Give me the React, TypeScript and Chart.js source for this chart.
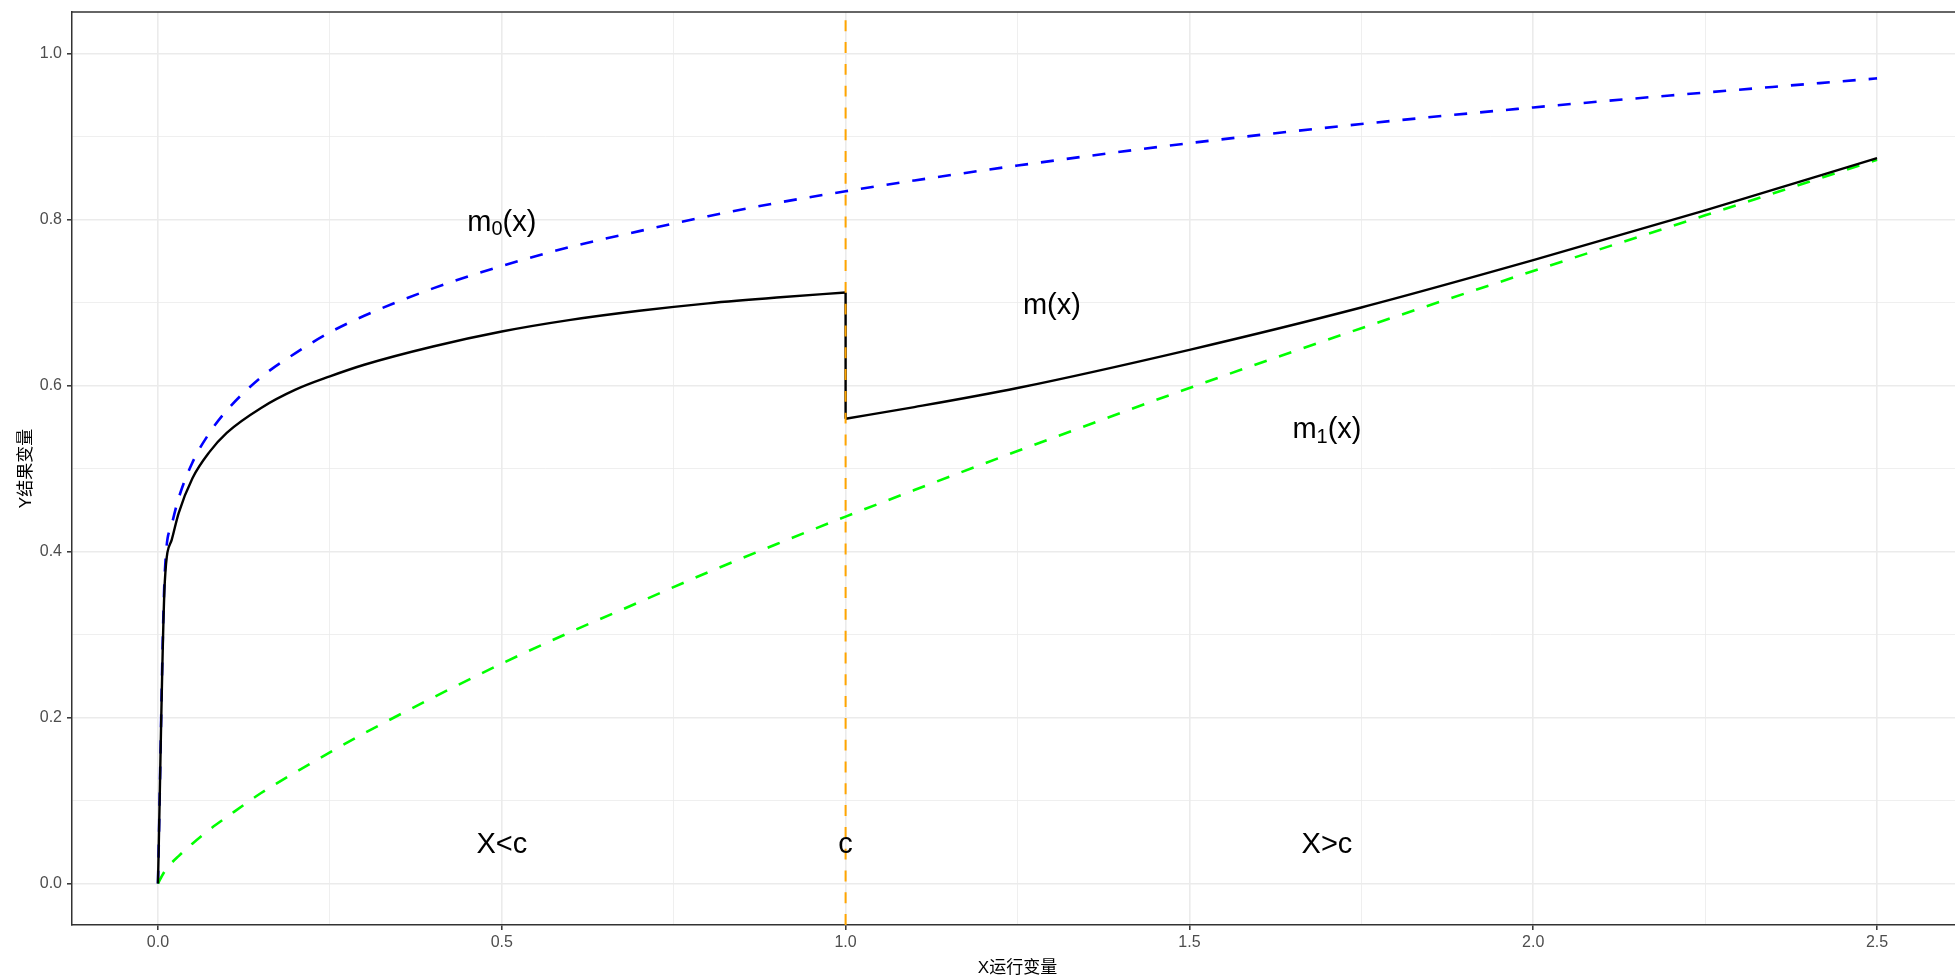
import React, { useEffect, useRef } from 'react';
import { Chart, registerables } from 'chart.js';

Chart.register(...registerables);

// ---- data ----
const X_ALL = [0, 0.01, 0.02, 0.03, 0.05, 0.075, 0.1, 0.15, 0.2, 0.25, 0.3, 0.4, 0.5, 0.6, 0.7, 0.8, 0.9, 1.0, 1.1, 1.25, 1.5, 1.75, 2.0, 2.25, 2.5];
const M0 = [0, 0.375, 0.432, 0.464, 0.507, 0.543, 0.57, 0.61, 0.639, 0.664, 0.684, 0.717, 0.744, 0.767, 0.786, 0.804, 0.82, 0.834, 0.847, 0.865, 0.892, 0.915, 0.935, 0.953, 0.97];
const M1 = [0, 0.015, 0.025, 0.033, 0.048, 0.065, 0.08, 0.109, 0.134, 0.158, 0.181, 0.224, 0.265, 0.303, 0.339, 0.375, 0.409, 0.442, 0.474, 0.521, 0.597, 0.669, 0.738, 0.805, 0.872];

const X_LEFT = [0, 0.01, 0.02, 0.03, 0.05, 0.075, 0.1, 0.15, 0.2, 0.25, 0.3, 0.4, 0.5, 0.6, 0.7, 0.8, 0.9, 1.0];
const M_LEFT = [0, 0.364, 0.414, 0.446, 0.488, 0.52, 0.543, 0.573, 0.595, 0.611, 0.625, 0.647, 0.665, 0.679, 0.69, 0.699, 0.706, 0.712];
const X_RIGHT = [1.0, 1.1, 1.25, 1.5, 1.75, 2.0, 2.25, 2.5];
const M_RIGHT = [0.56, 0.574, 0.597, 0.643, 0.694, 0.751, 0.811, 0.874];

const CUTOFF = 1;

const X_TICKS = [0, 0.25, 0.5, 0.75, 1.0, 1.25, 1.5, 1.75, 2.0, 2.25, 2.5];
const Y_TICKS = [0, 0.1, 0.2, 0.3, 0.4, 0.5, 0.6, 0.7, 0.8, 0.9, 1.0];
const X_RANGE = [-0.125, 2.625];
const Y_RANGE = [-0.05, 1.05];

const LABELS = ['m_0(x)', 'm(x)', 'm_1(x)', 'X<c', 'c', 'X>c'];
const LABEL_X = [0.5, 1.3, 1.7, 0.5, 1.0, 1.7];
const LABEL_Y = [0.8, 0.7, 0.55, 0.05, 0.05, 0.05];

const X_TITLE = 'X运行变量';
const Y_TITLE = 'Y结果变量';

const FAMILY = "'Liberation Sans', Arial, 'Noto Sans CJK SC', sans-serif";

const isMajor = (v: number, step: number) => Math.abs(v / step - Math.round(v / step)) < 1e-6;
const pts = (xs: number[], ys: number[]) => xs.map((x, i) => ({ x, y: ys[i] }));

const overlay = {
  id: 'overlay',
  afterDatasetsDraw(chart: any) {
    const { ctx, chartArea, scales } = chart;
    const xs = scales.x;
    const ys = scales.y;
    // cutoff line
    ctx.save();
    ctx.beginPath();
    ctx.rect(chartArea.left, chartArea.top, chartArea.right - chartArea.left, chartArea.bottom - chartArea.top);
    ctx.clip();
    const px = xs.getPixelForValue(CUTOFF);
    ctx.strokeStyle = '#FFA500';
    ctx.lineWidth = 2;
    ctx.setLineDash([10.9, 10.9]);
    ctx.beginPath();
    ctx.moveTo(px, chartArea.bottom);
    ctx.lineTo(px, chartArea.top);
    ctx.stroke();
    ctx.restore();

    // text labels
    ctx.save();
    ctx.fillStyle = '#000000';
    ctx.textBaseline = 'middle';
    ctx.textAlign = 'left';
    const mainFont = `29px ${FAMILY}`;
    const subFont = `20px ${FAMILY}`;
    LABELS.forEach((lab, i) => {
      const parts: { t: string; sub: boolean }[] = [];
      const m = lab.match(/^([^_]*)_(\d)(.*)$/);
      if (m) {
        parts.push({ t: m[1], sub: false }, { t: m[2], sub: true }, { t: m[3], sub: false });
      } else {
        parts.push({ t: lab, sub: false });
      }
      let w = 0;
      parts.forEach((p) => {
        ctx.font = p.sub ? subFont : mainFont;
        w += ctx.measureText(p.t).width;
      });
      let cx = xs.getPixelForValue(LABEL_X[i]) - w / 2;
      const cy = ys.getPixelForValue(LABEL_Y[i]) + 3;
      parts.forEach((p) => {
        ctx.font = p.sub ? subFont : mainFont;
        ctx.fillText(p.t, cx, p.sub ? cy + 7 : cy);
        cx += ctx.measureText(p.t).width;
      });
    });
    ctx.restore();

    // top border of panel
    ctx.save();
    ctx.strokeStyle = '#333333';
    ctx.lineWidth = 1.5;
    ctx.beginPath();
    ctx.moveTo(chartArea.left, chartArea.top);
    ctx.lineTo(chartArea.right, chartArea.top);
    ctx.stroke();
    ctx.restore();
  },
};

export default function App() {
  const ref = useRef<HTMLCanvasElement>(null);
  useEffect(() => {
    document.body.style.margin = '0';
    document.body.style.overflow = 'hidden';
    const canvas = ref.current as HTMLCanvasElement;

    const gridOpts = (step: number) => ({
      color: (c: any) => '#EBEBEB',
      lineWidth: (c: any) => (c.tick && isMajor(c.tick.value, step) ? 1.6 : 0.8),
      tickColor: (c: any) => (c.tick && isMajor(c.tick.value, step) ? '#333333' : 'rgba(0,0,0,0)'),
      tickWidth: 1.5,
      tickLength: 5,
      drawTicks: true,
      drawOnChartArea: true,
    });

    const blackLine = {
      borderColor: '#000000',
      borderWidth: 2.4,
      pointRadius: 0,
      fill: false,
      order: 0,
    };

    const chart = new Chart(canvas, {
      type: 'line',
      data: {
        datasets: [
          { ...blackLine, label: 'm(x) left', data: pts(X_LEFT, M_LEFT), cubicInterpolationMode: 'monotone' },
          {
            ...blackLine,
            label: 'm(x) jump',
            data: [
              { x: X_LEFT[X_LEFT.length - 1], y: M_LEFT[M_LEFT.length - 1] },
              { x: X_RIGHT[0], y: M_RIGHT[0] },
            ],
            tension: 0,
          },
          { ...blackLine, label: 'm(x) right', data: pts(X_RIGHT, M_RIGHT), cubicInterpolationMode: 'monotone' },
          {
            label: 'm1(x)',
            data: pts(X_ALL, M1),
            borderColor: '#00FF00',
            borderWidth: 2.6,
            borderDash: [13, 13],
            pointRadius: 0,
            cubicInterpolationMode: 'monotone',
            fill: false,
            order: 1,
          },
          {
            label: 'm0(x)',
            data: pts(X_ALL, M0),
            borderColor: '#0000FF',
            borderWidth: 2.6,
            borderDash: [13, 13],
            pointRadius: 0,
            cubicInterpolationMode: 'monotone',
            fill: false,
            order: 2,
          },
        ],
      } as any,
      options: {
        animation: false,
        responsive: false,
        maintainAspectRatio: false,
        events: [],
        layout: { padding: { top: 12, right: 9, left: 0, bottom: 0 } },
        plugins: { legend: { display: false }, tooltip: { enabled: false }, title: { display: false } },
        scales: {
          x: {
            type: 'linear',
            min: X_RANGE[0],
            max: X_RANGE[1],
            afterBuildTicks: (s: any) => {
              s.ticks = X_TICKS.map((v) => ({ value: v }));
            },
            afterFit: (s: any) => {
              s.height = 54;
              s.paddingLeft = 0;
              s.paddingRight = 0;
            },
            ticks: {
              autoSkip: false,
              maxRotation: 0,
              minRotation: 0,
              padding: 3,
              color: '#4D4D4D',
              font: { family: FAMILY, size: 16 },
              callback: (v: any) => (isMajor(Number(v), 0.5) ? Number(v).toFixed(1) : ''),
            },
            grid: gridOpts(0.5),
            border: { display: true, color: '#333333', width: 1.5 },
            title: {
              display: true,
              text: X_TITLE,
              color: '#000000',
              font: { family: FAMILY, size: 17 },
              padding: { top: 0, bottom: 0 },
            },
          },
          y: {
            type: 'linear',
            min: Y_RANGE[0],
            max: Y_RANGE[1],
            afterBuildTicks: (s: any) => {
              s.ticks = Y_TICKS.map((v) => ({ value: v }));
            },
            afterFit: (s: any) => {
              s.width = 72;
              s.paddingTop = 0;
              s.paddingBottom = 0;
            },
            ticks: {
              autoSkip: false,
              padding: 5,
              color: '#4D4D4D',
              font: { family: FAMILY, size: 16 },
              callback: (v: any) => (isMajor(Number(v), 0.2) ? Number(v).toFixed(1) : ''),
            },
            grid: gridOpts(0.2),
            border: { display: true, color: '#333333', width: 1.5 },
            title: {
              display: true,
              text: Y_TITLE,
              color: '#000000',
              font: { family: FAMILY, size: 17 },
              padding: { top: 16, bottom: 0 },
            },
          },
        },
      } as any,
      plugins: [overlay],
    });
    return () => chart.destroy();
  }, []);

  return (
    <div style={{ position: 'fixed', left: 0, top: 0, width: 1972, height: 979, overflow: 'hidden', background: '#FFFFFF' }}>
      <canvas ref={ref} width={1972} height={979} style={{ display: 'block', width: 1972, height: 979 }} />
    </div>
  );
}
